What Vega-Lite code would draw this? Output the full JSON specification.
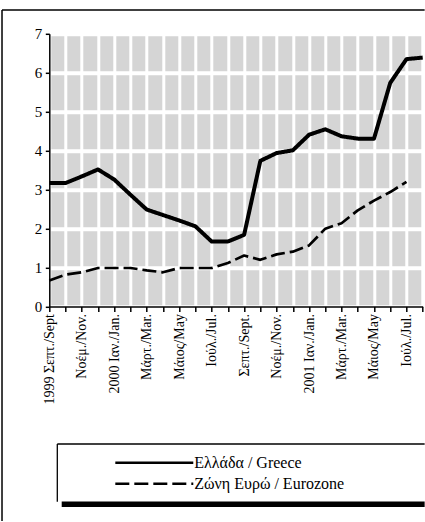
{
  "$schema": "https://vega.github.io/schema/vega-lite/v6.json",
  "usermeta": {"embedOptions": {"actions": false}},
  "autosize": {"type": "none"},
  "padding": {"left": 49.3, "top": 33.8, "right": 2.3, "bottom": 215.4},
  "width": 373.4,
  "height": 272.8,
  "background": "white",
  "config": {
    "view": {"fill": "#d5d5d5", "stroke": "transparent"},
    "font": "Liberation Serif, Times New Roman, serif",
    "axis": {
      "labelFont": "Liberation Serif, Times New Roman, serif",
      "labelColor": "black",
      "tickColor": "black",
      "tickWidth": 1.5,
      "domainColor": "black",
      "domainWidth": 1.5,
      "grid": true,
      "gridColor": "white"
    },
    "axisX": {
      "labelAngle": -90,
      "labelFontSize": 14,
      "labelPadding": 2,
      "labelOverlap": false,
      "labelFlush": false,
      "labelBound": false,
      "tickSize": 5,
      "gridWidth": 3
    },
    "axisY": {
      "labelFontSize": 15,
      "labelPadding": 3.5,
      "tickSize": 4,
      "gridWidth": 4
    },
    "legend": {
      "orient": "none",
      "legendX": 94,
      "legendY": 418,
      "symbolType": "M-4,0H4",
      "symbolSize": 380,
      "symbolStrokeColor": "black",
      "symbolStrokeWidth": 2.5,
      "labelFont": "Liberation Serif, Times New Roman, serif",
      "labelFontSize": 16,
      "labelColor": "black",
      "labelOffset": 29,
      "rowPadding": 2
    }
  },
  "datasets": {
    "rates": [
      {"month": "1999-09", "i": 0, "series": "Ελλάδα / Greece", "value": 3.17},
      {"month": "1999-10", "i": 1, "series": "Ελλάδα / Greece", "value": 3.17},
      {"month": "1999-11", "i": 2, "series": "Ελλάδα / Greece", "value": 3.34},
      {"month": "1999-12", "i": 3, "series": "Ελλάδα / Greece", "value": 3.52},
      {"month": "2000-01", "i": 4, "series": "Ελλάδα / Greece", "value": 3.26},
      {"month": "2000-02", "i": 5, "series": "Ελλάδα / Greece", "value": 2.87},
      {"month": "2000-03", "i": 6, "series": "Ελλάδα / Greece", "value": 2.49},
      {"month": "2000-04", "i": 7, "series": "Ελλάδα / Greece", "value": 2.35},
      {"month": "2000-05", "i": 8, "series": "Ελλάδα / Greece", "value": 2.21},
      {"month": "2000-06", "i": 9, "series": "Ελλάδα / Greece", "value": 2.06},
      {"month": "2000-07", "i": 10, "series": "Ελλάδα / Greece", "value": 1.67},
      {"month": "2000-08", "i": 11, "series": "Ελλάδα / Greece", "value": 1.67},
      {"month": "2000-09", "i": 12, "series": "Ελλάδα / Greece", "value": 1.84},
      {"month": "2000-10", "i": 13, "series": "Ελλάδα / Greece", "value": 3.74},
      {"month": "2000-11", "i": 14, "series": "Ελλάδα / Greece", "value": 3.94},
      {"month": "2000-12", "i": 15, "series": "Ελλάδα / Greece", "value": 4.01},
      {"month": "2001-01", "i": 16, "series": "Ελλάδα / Greece", "value": 4.41},
      {"month": "2001-02", "i": 17, "series": "Ελλάδα / Greece", "value": 4.55},
      {"month": "2001-03", "i": 18, "series": "Ελλάδα / Greece", "value": 4.37},
      {"month": "2001-04", "i": 19, "series": "Ελλάδα / Greece", "value": 4.31},
      {"month": "2001-05", "i": 20, "series": "Ελλάδα / Greece", "value": 4.31},
      {"month": "2001-06", "i": 21, "series": "Ελλάδα / Greece", "value": 5.74},
      {"month": "2001-07", "i": 22, "series": "Ελλάδα / Greece", "value": 6.35},
      {"month": "2001-08", "i": 23, "series": "Ελλάδα / Greece", "value": 6.39},
      {"month": "1999-09", "i": 0, "series": "Ζώνη Ευρώ / Eurozone", "value": 0.67},
      {"month": "1999-10", "i": 1, "series": "Ζώνη Ευρώ / Eurozone", "value": 0.82},
      {"month": "1999-11", "i": 2, "series": "Ζώνη Ευρώ / Eurozone", "value": 0.88},
      {"month": "1999-12", "i": 3, "series": "Ζώνη Ευρώ / Eurozone", "value": 0.99},
      {"month": "2000-01", "i": 4, "series": "Ζώνη Ευρώ / Eurozone", "value": 0.99},
      {"month": "2000-02", "i": 5, "series": "Ζώνη Ευρώ / Eurozone", "value": 0.99},
      {"month": "2000-03", "i": 6, "series": "Ζώνη Ευρώ / Eurozone", "value": 0.93},
      {"month": "2000-04", "i": 7, "series": "Ζώνη Ευρώ / Eurozone", "value": 0.88},
      {"month": "2000-05", "i": 8, "series": "Ζώνη Ευρώ / Eurozone", "value": 0.99},
      {"month": "2000-06", "i": 9, "series": "Ζώνη Ευρώ / Eurozone", "value": 0.99},
      {"month": "2000-07", "i": 10, "series": "Ζώνη Ευρώ / Eurozone", "value": 0.99},
      {"month": "2000-08", "i": 11, "series": "Ζώνη Ευρώ / Eurozone", "value": 1.12},
      {"month": "2000-09", "i": 12, "series": "Ζώνη Ευρώ / Eurozone", "value": 1.31},
      {"month": "2000-10", "i": 13, "series": "Ζώνη Ευρώ / Eurozone", "value": 1.2},
      {"month": "2000-11", "i": 14, "series": "Ζώνη Ευρώ / Eurozone", "value": 1.34},
      {"month": "2000-12", "i": 15, "series": "Ζώνη Ευρώ / Eurozone", "value": 1.41},
      {"month": "2001-01", "i": 16, "series": "Ζώνη Ευρώ / Eurozone", "value": 1.57},
      {"month": "2001-02", "i": 17, "series": "Ζώνη Ευρώ / Eurozone", "value": 2.0},
      {"month": "2001-03", "i": 18, "series": "Ζώνη Ευρώ / Eurozone", "value": 2.14},
      {"month": "2001-04", "i": 19, "series": "Ζώνη Ευρώ / Eurozone", "value": 2.47},
      {"month": "2001-05", "i": 20, "series": "Ζώνη Ευρώ / Eurozone", "value": 2.72},
      {"month": "2001-06", "i": 21, "series": "Ζώνη Ευρώ / Eurozone", "value": 2.94},
      {"month": "2001-07", "i": 22, "series": "Ζώνη Ευρώ / Eurozone", "value": 3.2}
    ]
  },
  "layer": [
    {
      "data": {"name": "rates"},
      "mark": {"type": "line", "color": "black", "strokeJoin": "round"},
      "encoding": {
        "x": {
          "field": "i", "type": "quantitative",
          "scale": {"domain": [0, 23], "nice": false, "zero": false},
          "axis": {"title": null, "values": [0, 1, 2, 3, 4, 5, 6, 7, 8, 9, 10, 11, 12, 13, 14, 15, 16, 17, 18, 19, 20, 21, 22, 23],
            "labelExpr": "['1999 Σεπτ./Sept','','Νοέμ./Nov.','','2000 Ιαν./Jan.','','Μάρτ./Mar.','','Μάιος/May','','Ιούλ./Jul.','','Σεπτ./Sept.','','Νοέμ./Nov.','','2001 Ιαν./Jan.','','Μάρτ./Mar.','','Μάιος/May','','Ιούλ./Jul.',''][datum.value]"}
        },
        "y": {
          "field": "value", "type": "quantitative",
          "scale": {"domain": [0, 7], "nice": false, "zero": false},
          "axis": {"title": null, "values": [0, 1, 2, 3, 4, 5, 6, 7]}
        },
        "strokeDash": {
          "field": "series", "type": "nominal",
          "scale": {"domain": ["Ελλάδα / Greece", "Ζώνη Ευρώ / Eurozone"], "range": [[1, 0], [14, 5]]},
          "legend": {"title": null}
        },
        "strokeWidth": {
          "condition": {"test": "datum.series === 'Ελλάδα / Greece'", "value": 4},
          "value": 2.7
        }
      }
    },
    {
      "data": {"values": [{}]},
      "mark": {"type": "rect", "fill": "black", "clip": false},
      "encoding": {
        "x": {"datum": 0.764, "type": "quantitative",
          "axis": {"title": null, "values": [0, 1, 2, 3, 4, 5, 6, 7, 8, 9, 10, 11, 12, 13, 14, 15, 16, 17, 18, 19, 20, 21, 22, 23],
            "labelExpr": "['1999 Σεπτ./Sept','','Νοέμ./Nov.','','2000 Ιαν./Jan.','','Μάρτ./Mar.','','Μάιος/May','','Ιούλ./Jul.','','Σεπτ./Sept.','','Νοέμ./Nov.','','2001 Ιαν./Jan.','','Μάρτ./Mar.','','Μάιος/May','','Ιούλ./Jul.',''][datum.value]"}},
        "x2": {"datum": 23.12},
        "y": {"datum": -5.0, "type": "quantitative", "axis": {"title": null, "values": [0, 1, 2, 3, 4, 5, 6, 7]}},
        "y2": {"datum": -5.142}
      }
    },
    {
      "data": {"values": [{}]},
      "mark": {"type": "rule", "color": "black", "strokeWidth": 1.3, "clip": false},
      "encoding": {
        "x": {"datum": 0.493, "type": "quantitative",
          "axis": {"title": null, "values": [0, 1, 2, 3, 4, 5, 6, 7, 8, 9, 10, 11, 12, 13, 14, 15, 16, 17, 18, 19, 20, 21, 22, 23],
            "labelExpr": "['1999 Σεπτ./Sept','','Νοέμ./Nov.','','2000 Ιαν./Jan.','','Μάρτ./Mar.','','Μάιος/May','','Ιούλ./Jul.','','Σεπτ./Sept.','','Νοέμ./Nov.','','2001 Ιαν./Jan.','','Μάρτ./Mar.','','Μάιος/May','','Ιούλ./Jul.',''][datum.value]"}},
        "x2": {"datum": 23.12},
        "y": {"datum": -3.526, "type": "quantitative", "axis": {"title": null, "values": [0, 1, 2, 3, 4, 5, 6, 7]}}
      }
    },
    {
      "data": {"values": [{}]},
      "mark": {"type": "rule", "color": "black", "strokeWidth": 1.3, "clip": false},
      "encoding": {
        "x": {"datum": 0.493, "type": "quantitative",
          "axis": {"title": null, "values": [0, 1, 2, 3, 4, 5, 6, 7, 8, 9, 10, 11, 12, 13, 14, 15, 16, 17, 18, 19, 20, 21, 22, 23],
            "labelExpr": "['1999 Σεπτ./Sept','','Νοέμ./Nov.','','2000 Ιαν./Jan.','','Μάρτ./Mar.','','Μάιος/May','','Ιούλ./Jul.','','Σεπτ./Sept.','','Νοέμ./Nov.','','2001 Ιαν./Jan.','','Μάρτ./Mar.','','Μάιος/May','','Ιούλ./Jul.',''][datum.value]"}},
        "y": {"datum": -3.526, "type": "quantitative", "axis": {"title": null, "values": [0, 1, 2, 3, 4, 5, 6, 7]}},
        "y2": {"datum": -5.006}
      }
    },
    {
      "data": {"values": [{}]},
      "mark": {"type": "rule", "color": "black", "strokeWidth": 1.5, "clip": false},
      "encoding": {
        "x": {"datum": -2.913, "type": "quantitative",
          "axis": {"title": null, "values": [0, 1, 2, 3, 4, 5, 6, 7, 8, 9, 10, 11, 12, 13, 14, 15, 16, 17, 18, 19, 20, 21, 22, 23],
            "labelExpr": "['1999 Σεπτ./Sept','','Νοέμ./Nov.','','2000 Ιαν./Jan.','','Μάρτ./Mar.','','Μάιος/May','','Ιούλ./Jul.','','Σεπτ./Sept.','','Νοέμ./Nov.','','2001 Ιαν./Jan.','','Μάρτ./Mar.','','Μάιος/May','','Ιούλ./Jul.',''][datum.value]"}},
        "y": {"datum": 7.611, "type": "quantitative", "axis": {"title": null, "values": [0, 1, 2, 3, 4, 5, 6, 7]}},
        "y2": {"datum": -5.5}
      }
    },
    {
      "data": {"values": [{}]},
      "mark": {"type": "rule", "color": "black", "strokeWidth": 1.5, "clip": false},
      "encoding": {
        "x": {"datum": -2.913, "type": "quantitative",
          "axis": {"title": null, "values": [0, 1, 2, 3, 4, 5, 6, 7, 8, 9, 10, 11, 12, 13, 14, 15, 16, 17, 18, 19, 20, 21, 22, 23],
            "labelExpr": "['1999 Σεπτ./Sept','','Νοέμ./Nov.','','2000 Ιαν./Jan.','','Μάρτ./Mar.','','Μάιος/May','','Ιούλ./Jul.','','Σεπτ./Sept.','','Νοέμ./Nov.','','2001 Ιαν./Jan.','','Μάρτ./Mar.','','Μάιος/May','','Ιούλ./Jul.',''][datum.value]"}},
        "x2": {"datum": 23.12},
        "y": {"datum": 7.611, "type": "quantitative", "axis": {"title": null, "values": [0, 1, 2, 3, 4, 5, 6, 7]}}
      }
    }
  ]
}
